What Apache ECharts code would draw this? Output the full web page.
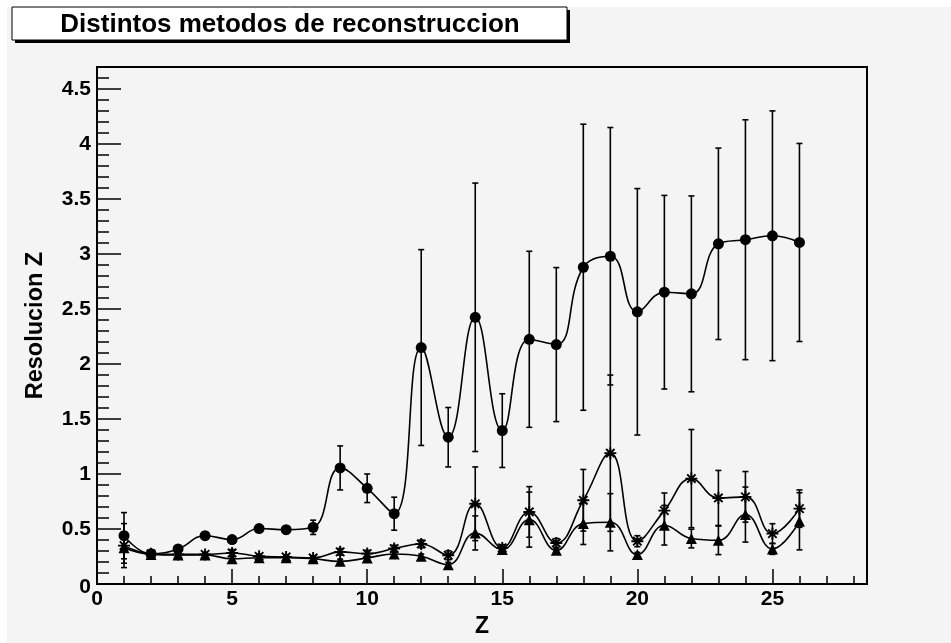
<!DOCTYPE html>
<html>
<head>
<meta charset="utf-8">
<script src="https://cdn.jsdelivr.net/npm/echarts@6/dist/echarts.min.js"></script>
<style>
  html, body { margin: 0; padding: 0; background: #ffffff; }
  #chart { width: 951px; height: 643px; }
</style>
</head>
<body>
<div id="chart"></div>
<script>
// Charge number Z of each point
const zValues = [1, 2, 3, 4, 5, 6, 7, 8, 9, 10, 11, 12, 13, 14, 15, 16, 17, 18, 19, 20, 21, 22, 23, 24, 25, 26];

// Method drawn with filled circles
const circleRes = [0.44, 0.275, 0.32, 0.44, 0.405, 0.505, 0.495, 0.516, 1.056, 0.871, 0.64, 2.15, 1.335,
                   2.425, 1.395, 2.225, 2.177, 2.88, 2.98, 2.475, 2.653, 2.638, 3.093, 3.13, 3.166, 3.105];
const circleErr = [0.21, 0.02, 0.02, 0.02, 0.02, 0.02, 0.035, 0.065, 0.2, 0.13, 0.15, 0.89, 0.27,
                   1.22, 0.335, 0.8, 0.7, 1.3, 1.17, 1.12, 0.88, 0.89, 0.87, 1.09, 1.135, 0.9];

// Method drawn with asterisks
const starRes = [0.35, 0.275, 0.27, 0.27, 0.283, 0.253, 0.247, 0.238, 0.293, 0.277, 0.323, 0.365, 0.262,
                 0.73, 0.329, 0.656, 0.374, 0.762, 1.19, 0.39, 0.668, 0.959, 0.783, 0.793, 0.459, 0.686];
const starErr = [0.2, 0.02, 0.02, 0.02, 0.03, 0.02, 0.02, 0.02, 0.03, 0.03, 0.03, 0.035, 0.04,
                 0.335, 0.03, 0.23, 0.04, 0.28, 0.71, 0.05, 0.16, 0.446, 0.25, 0.23, 0.09, 0.17];

// Method drawn with triangles
const triRes = [0.33, 0.27, 0.265, 0.265, 0.23, 0.24, 0.24, 0.23, 0.207, 0.238, 0.274, 0.253, 0.177,
                0.465, 0.314, 0.586, 0.307, 0.55, 0.562, 0.268, 0.535, 0.414, 0.398, 0.632, 0.32, 0.571];
const triErr = [0.14, 0.02, 0.02, 0.02, 0.02, 0.02, 0.02, 0.02, 0.02, 0.02, 0.02, 0.02, 0.02,
                0.155, 0.02, 0.25, 0.02, 0.19, 0.26, 0.02, 0.18, 0.085, 0.13, 0.25, 0.05, 0.26];

// Axis ranges and tick steps
const xMin = 0, xMax = 28.5, xMajor = 5, xMinor = 1;
const yMin = 0, yMax = 4.7, yMajor = 0.5, yMinor = 0.1;

const titleText = 'Distintos metodos de reconstruccion';
const xTitle = 'Z';
const yTitle = 'Resolucion Z';

const FONT = "'Liberation Sans', Arial, Helvetica, sans-serif";
const INK = '#000000';

function points(vals) {
  return zValues.map((z, i) => [z, vals[i]]);
}
function bars(vals, errs) {
  return zValues.map((z, i) => [z, vals[i] - errs[i], vals[i] + errs[i]]);
}

function renderErrorBar(params, api) {
  const x = api.value(0);
  const top = api.coord([x, api.value(2)]);
  const bot = api.coord([x, api.value(1)]);
  const hw = 3;
  const st = { stroke: INK, lineWidth: 1.6 };
  return {
    type: 'group',
    children: [
      { type: 'line', shape: { x1: top[0], y1: top[1], x2: bot[0], y2: bot[1] }, style: st },
      { type: 'line', shape: { x1: top[0] - hw, y1: top[1], x2: top[0] + hw, y2: top[1] }, style: st },
      { type: 'line', shape: { x1: bot[0] - hw, y1: bot[1], x2: bot[0] + hw, y2: bot[1] }, style: st }
    ]
  };
}

function errorSeries(vals, errs) {
  return {
    type: 'custom',
    renderItem: renderErrorBar,
    data: bars(vals, errs),
    encode: { x: 0, y: [1, 2] },
    z: 2,
    silent: true
  };
}

function curveSeries(vals, symbol, size) {
  return {
    type: 'line',
    data: points(vals),
    smooth: 0.45,
    symbol: symbol,
    symbolSize: size,
    showAllSymbol: true,
    lineStyle: { color: INK, width: 1.6 },
    itemStyle: { color: INK, borderColor: INK, borderWidth: symbol.startsWith('path://') ? 1.9 : 0 },
    z: 3,
    silent: true
  };
}

const labelStyle = { fontFamily: FONT, fontWeight: 'bold', fontSize: 21, color: INK };

const chart = echarts.init(document.getElementById('chart'), null, { renderer: 'canvas' });

chart.setOption({
  backgroundColor: '#ffffff',
  animation: false,
  graphic: [
    { type: 'rect', left: 7, top: 7, z: -10, shape: { x: 0, y: 0, width: 944, height: 636 }, style: { fill: '#f4f4f4' } },
    { type: 'rect', z: 10, shape: { x: 15, y: 10, width: 555, height: 33 }, style: { fill: INK } },
    { type: 'rect', z: 11, shape: { x: 12, y: 7, width: 555, height: 33 }, style: { fill: '#ffffff', stroke: INK, lineWidth: 1 } },
    {
      type: 'text', z: 12, x: 290, y: 25,
      style: { text: titleText, fill: INK, font: "bold 26px " + FONT, textAlign: 'center', textVerticalAlign: 'middle' }
    }
  ],
  grid: {
    left: 97, top: 67, width: 770, height: 517.5,
    show: true, backgroundColor: '#f4f4f4', borderColor: INK, borderWidth: 2
  },
  xAxis: [
    {
      type: 'value', min: xMin, max: xMax, interval: xMajor, position: 'bottom',
      name: xTitle, nameLocation: 'middle', nameGap: 24,
      nameTextStyle: { fontFamily: FONT, fontWeight: 'bold', fontSize: 23, color: INK },
      axisLine: { show: true, lineStyle: { color: INK, width: 2 } },
      axisTick: { show: true, inside: true, length: 15, lineStyle: { color: INK, width: 1.5 } },
      axisLabel: Object.assign({ margin: 5, showMaxLabel: false,
        formatter: v => (Math.abs(v / xMajor - Math.round(v / xMajor)) < 1e-6 ? String(v) : '') }, labelStyle),
      splitLine: { show: false }
    },
    {
      type: 'value', min: xMin, max: xMax, interval: xMinor, position: 'bottom',
      axisLine: { show: false },
      axisTick: { show: true, inside: true, length: 8, lineStyle: { color: INK, width: 1.5 } },
      axisLabel: { show: false },
      splitLine: { show: false }
    }
  ],
  yAxis: [
    {
      type: 'value', min: yMin, max: yMax, interval: yMajor, position: 'left',
      name: yTitle, nameLocation: 'middle', nameGap: 49,
      nameTextStyle: { fontFamily: FONT, fontWeight: 'bold', fontSize: 23.5, color: INK },
      axisLine: { show: true, lineStyle: { color: INK, width: 2 } },
      axisTick: { show: true, inside: true, length: 24, lineStyle: { color: INK, width: 1.5 } },
      axisLabel: Object.assign({ margin: 6, showMaxLabel: false,
        formatter: v => (v === 0 ? '{z|0}' : (Math.abs(v / yMajor - Math.round(v / yMajor)) < 1e-6 ? String(v) : '')),
        rich: { z: { fontFamily: FONT, fontWeight: 'bold', fontSize: 21, color: INK, padding: [7, 0, 0, 0] } } }, labelStyle),
      splitLine: { show: false }
    },
    {
      type: 'value', min: yMin, max: yMax, interval: yMinor, position: 'left',
      axisLine: { show: false },
      axisTick: { show: true, inside: true, length: 12, lineStyle: { color: INK, width: 1.5 } },
      axisLabel: { show: false },
      splitLine: { show: false }
    }
  ],
  series: [
    errorSeries(circleRes, circleErr),
    errorSeries(starRes, starErr),
    errorSeries(triRes, triErr),
    curveSeries(circleRes, 'circle', 11),
    curveSeries(starRes, 'path://M5,0L5,10M0,5L10,5M1.5,1.5L8.5,8.5M8.5,1.5L1.5,8.5', 12),
    curveSeries(triRes, 'triangle', 11)
  ]
});
</script>
</body>
</html>
